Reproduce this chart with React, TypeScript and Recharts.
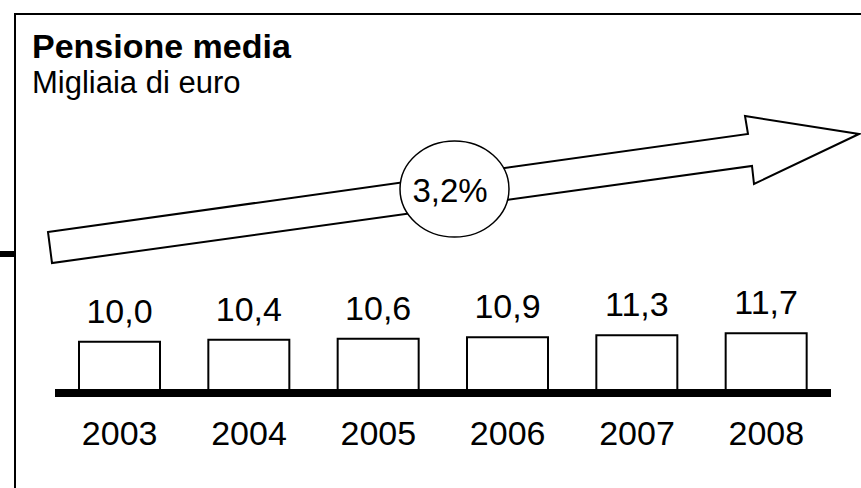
import React from 'react';
import { BarChart, Bar, XAxis, YAxis, LabelList, Customized } from 'recharts';

const years = ['2003', '2004', '2005', '2006', '2007', '2008'];
const pensione = [10.0, 10.4, 10.6, 10.9, 11.3, 11.7];
const valueLabels = ['10,0', '10,4', '10,6', '10,9', '11,3', '11,7'];
const title = 'Pensione media';
const subtitle = 'Migliaia di euro';
const growthLabel = '3,2%';

const data = years.map((y, i) => ({ year: y, value: pensione[i], label: valueLabels[i] }));

const FONT = '"Liberation Sans", Arial, Helvetica, sans-serif';

const Decor = () => (
  <g>
    <rect x={15} y={14} width={900} height={600} fill="none" stroke="#000" strokeWidth={2} />
    <line x1={0} y1={254} x2={15} y2={254} stroke="#000" strokeWidth={6} />
    <text x={32} y={58} fontFamily={FONT} fontWeight="bold" fontSize={34} fill="#000">{title}</text>
    <text x={32} y={93} fontFamily={FONT} fontSize={31} fill="#000">{subtitle}</text>
    <polygon
      points="48,232 748,134 745,116 859,134 754,184 752,166 52,263"
      fill="#fff"
      stroke="#000"
      strokeWidth={2}
      strokeLinejoin="miter"
    />
    <ellipse cx={454.5} cy={189} rx={54.5} ry={48} fill="#fff" stroke="#000" strokeWidth={1.5} />
    <text x={450} y={202} textAnchor="middle" fontFamily={FONT} fontSize={33} fill="#000">{growthLabel}</text>
  </g>
);

export default function App() {
  return (
    <div style={{ position: 'absolute', left: 0, top: 0, width: 861, height: 488, background: '#fff' }}>
      <BarChart
        width={861}
        height={488}
        data={data}
        margin={{ top: 86, right: 30, bottom: 65, left: 55 }}
        style={{ fontFamily: FONT }}
      >
        <Customized component={Decor} />
        <YAxis hide domain={[0, 60]} />
        <XAxis
          dataKey="year"
          height={30}
          axisLine={{ stroke: '#000', strokeWidth: 8 }}
          tickLine={false}
          tickSize={0}
          tickMargin={28}
          tick={{ fill: '#000', fontSize: 34, fontFamily: FONT }}
          interval={0}
        />
        <Bar dataKey="value" fill="#fff" stroke="#000" strokeWidth={2} barSize={81} isAnimationActive={false}>
          <LabelList dataKey="label" position="top" offset={19} fill="#000" fontSize={34} fontFamily={FONT} />
        </Bar>
      </BarChart>
    </div>
  );
}
